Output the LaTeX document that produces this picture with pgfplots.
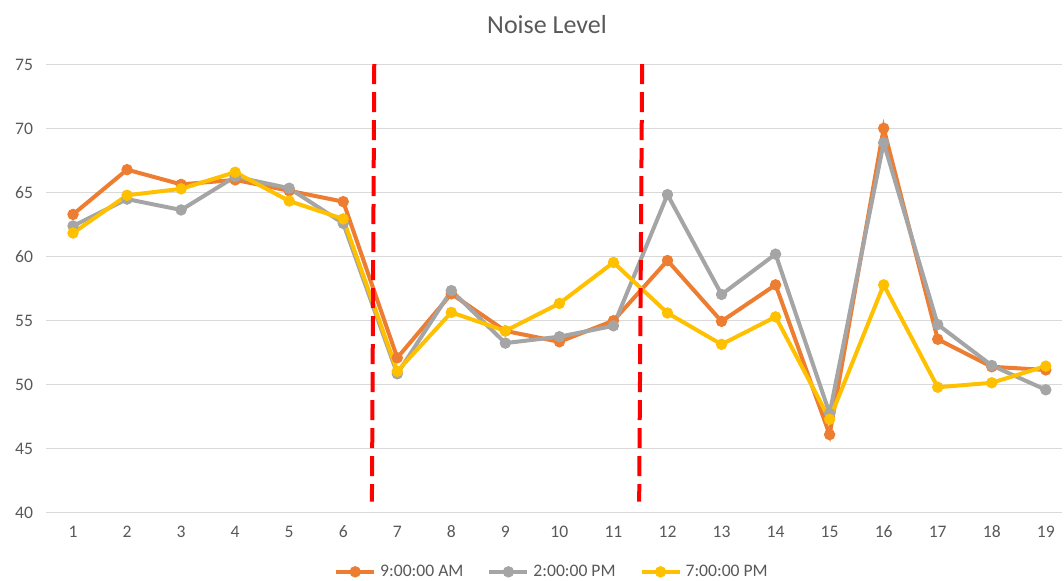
\documentclass[border=0pt]{standalone}
\usepackage{pgfplots}
\pgfplotsset{compat=1.18}
\usepackage{fontspec}
\setmainfont{Carlito}
\definecolor{corange}{HTML}{ED7D31}
\definecolor{cgray}{HTML}{A5A5A5}
\definecolor{cyellow}{HTML}{FFC000}
\definecolor{ctext}{HTML}{595959}
\definecolor{cgrid}{HTML}{D9D9D9}
\begin{document}
\begin{tikzpicture}
\begin{axis}[
  at={(0,0)}, anchor=south west,
  scale only axis, width=508pt, height=224pt,
  xmin=0.5, xmax=19.3, ymin=40, ymax=75,
  xtick={1,...,19}, ytick={40,45,...,75},
  ymajorgrids, grid style={cgrid, line width=0.6pt},
  axis line style={draw=none},
  major tick length=0pt,
  tick label style={font=\fontsize{8.8}{10}\selectfont, text=ctext},
  /pgf/number format/assume math mode=true,
  yticklabel style={xshift=-3pt},
  xticklabel style={yshift=-3pt},
  clip=false,
  every axis plot/.append style={line width=2pt, mark=*, mark size=2.6pt, mark options={line width=0.5pt}},
  legend columns=3,
  legend style={draw=none, fill=none, at={(0.499,-0.132)}, anchor=center,
    font=\fontsize{8.8}{10}\selectfont, text=ctext,
    /tikz/every even column/.append style={column sep=10pt}},
  legend image code/.code={
    \draw[#1, mark=none] (0pt,0pt) -- (19pt,0pt);
    \draw[#1, only marks] plot coordinates {(9.5pt,0pt)};
  },
]
\addplot[corange] coordinates {
(1,63.3) (2,66.8) (3,65.65) (4,66.0) (5,65.15) (6,64.3) (7,52.1) (8,57.1) (9,54.2) (10,53.35)
(11,55.0) (12,59.7) (13,54.95) (14,57.8) (15,46.1) (16,70.03) (17,53.55) (18,51.4) (19,51.15)};
\addlegendentry{9:00:00 AM}
\addplot[cgray] coordinates {
(1,62.4) (2,64.5) (3,63.65) (4,66.25) (5,65.35) (6,62.6) (7,50.85) (8,57.35) (9,53.25) (10,53.75)
(11,54.6) (12,64.85) (13,57.05) (14,60.2) (15,47.75) (16,68.9) (17,54.7) (18,51.5) (19,49.6)};
\addlegendentry{2:00:00 PM}
\addplot[cyellow] coordinates {
(1,61.85) (2,64.8) (3,65.3) (4,66.6) (5,64.35) (6,62.95) (7,51.05) (8,55.65) (9,54.2) (10,56.35)
(11,59.55) (12,55.6) (13,53.15) (14,55.3) (15,47.3) (16,57.8) (17,49.8) (18,50.15) (19,51.45)};
\addlegendentry{7:00:00 PM}
\addplot[red, mark=none, line width=2pt, dash pattern=on 10pt off 4pt, forget plot] coordinates {(6.574,75.05) (6.531,40.86)};
\addplot[red, mark=none, line width=2pt, dash pattern=on 10pt off 4pt, forget plot] coordinates {(11.531,75.05) (11.476,40.86)};
\end{axis}
\node[text=ctext, font=\fontsize{13}{15}\selectfont] at (250.5pt,243.85pt) {Noise Level};
\pgfresetboundingbox
\useasboundingbox (-23pt,-34.15pt) rectangle (509pt,256.35pt);
\end{tikzpicture}
\end{document}
